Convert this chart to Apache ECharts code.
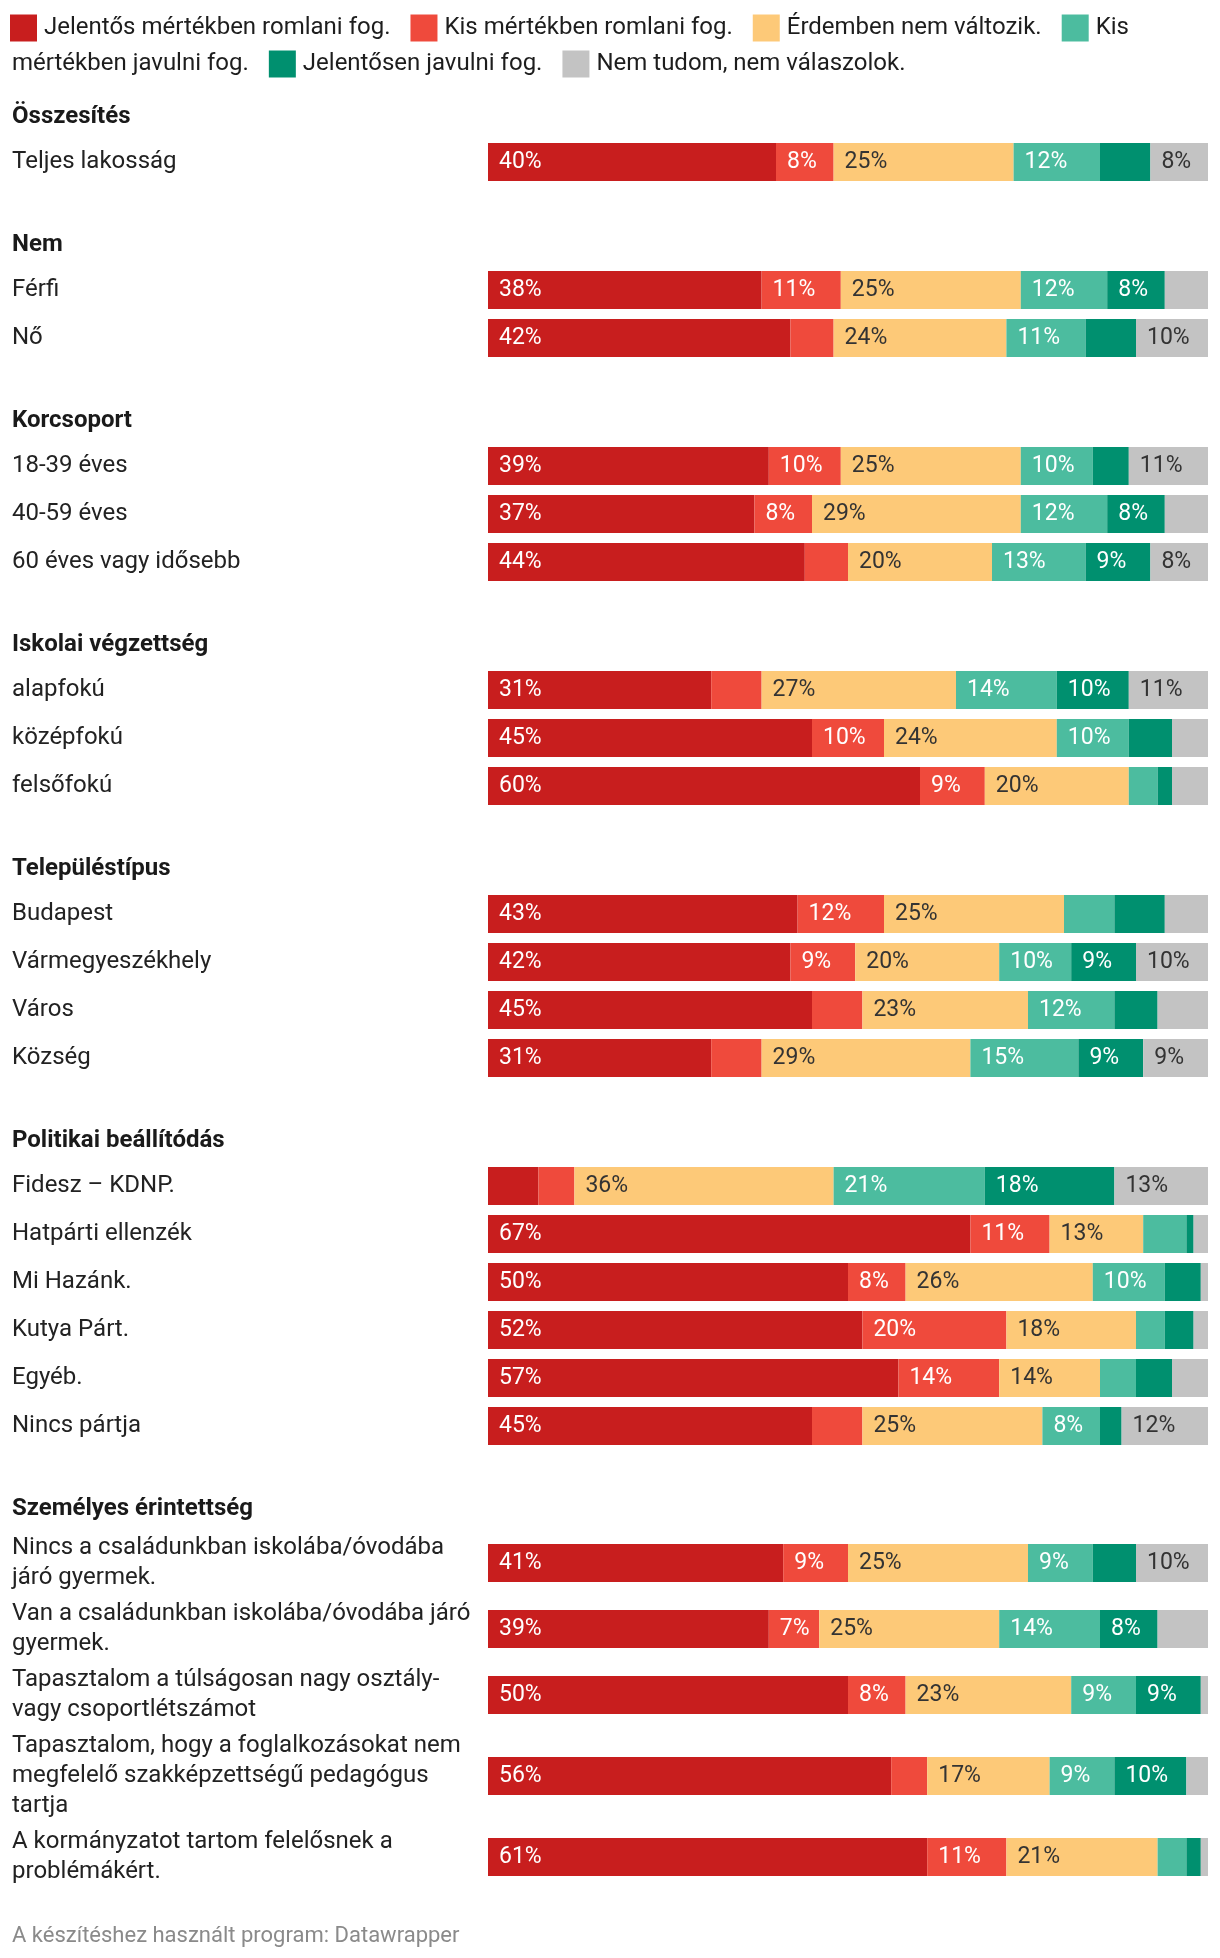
<!DOCTYPE html>
<html>
<head>
<meta charset="utf-8">
<script src="https://cdn.jsdelivr.net/npm/echarts@6/dist/echarts.min.js"></script>
<style>
html,body{margin:0;padding:0;background:#fff;}
#chart{width:1220px;height:1958px;}
</style>
</head>
<body>
<div id="chart"></div>
<script>
// ---------- DATA ----------
const seriesNames = [
  'Jelentős mértékben romlani fog.',
  'Kis mértékben romlani fog.',
  'Érdemben nem változik.',
  'Kis mértékben javulni fog.',
  'Jelentősen javulni fog.',
  'Nem tudom, nem válaszolok.'
];
const groupNames = ['Összesítés','Nem','Korcsoport','Iskolai végzettség','Településtípus','Politikai beállítódás','Személyes érintettség'];
const groupSizes = [1,2,3,3,4,6,5];
const rowLabels = [
  'Teljes lakosság',
  'Férfi','Nő',
  '18-39 éves','40-59 éves','60 éves vagy idősebb',
  'alapfokú','középfokú','felsőfokú',
  'Budapest','Vármegyeszékhely','Város','Község',
  'Fidesz – KDNP.','Hatpárti ellenzék','Mi Hazánk.','Kutya Párt.','Egyéb.','Nincs pártja',
  'Nincs a családunkban iskolába/óvodába\njáró gyermek.',
  'Van a családunkban iskolába/óvodába járó\ngyermek.',
  'Tapasztalom a túlságosan nagy osztály-\nvagy csoportlétszámot',
  'Tapasztalom, hogy a foglalkozásokat nem\nmegfelelő szakképzettségű pedagógus\ntartja',
  'A kormányzatot tartom felelősnek a\nproblémákért.'
];
const sigWorse   = [40,38,42,39,37,44,31,45,60,43,42,45,31, 7,67,50,52,57,45,41,39,50,56,61];
const slightWorse= [ 8,11, 6,10, 8, 6, 7,10, 9,12, 9, 7, 7, 5,11, 8,20,14, 7, 9, 7, 8, 5,11];
const noChange   = [25,25,24,25,29,20,27,24,20,25,20,23,29,36,13,26,18,14,25,25,25,23,17,21];
const slightBetter=[12,12,11,10,12,13,14,10, 4, 7,10,12,15,21, 6,10, 4, 5, 8, 9,14, 9, 9, 4];
const sigBetter  = [ 7, 8, 7, 5, 8, 9,10, 6, 2, 7, 9, 6, 9,18, 1, 5, 4, 5, 3, 6, 8, 9,10, 2];
const dontKnow   = [ 8, 6,10,11, 6, 8,11, 5, 5, 6,10, 7, 9,13, 2, 1, 2, 5,12,10, 7, 1, 3, 1];
const seriesValues = [sigWorse, slightWorse, noChange, slightBetter, sigBetter, dontKnow];
// small segments whose label is still shown in the original: [row, series]
const extraLabels = [[20,1]];
const footerText = 'A készítéshez használt program: Datawrapper';

// ---------- STYLE ----------
const colors = ['#c81e1e','#ef4a3c','#fdc978','#4cbc9f','#00906f','#c3c3c3'];
const labelColors = ['#fff','#fff','#333','#fff','#fff','#333'];
const FONT = 'Roboto';
const FS = 24;
const BAR_FS = 23;
const LEFT = 488, BAR_W = 720, BAR_H = 38;

const canvas = document.createElement('canvas');
const ctx = canvas.getContext('2d');
function tw(s, weight) { ctx.font = (weight||'normal') + ' ' + FS + 'px ' + FONT; return ctx.measureText(s).width; }

const option = {
  animation: false,
  backgroundColor: '#fff',
  grid: [], xAxis: [], yAxis: [], series: [], graphic: []
};

// ---------- LEGEND (wrapping like the original) ----------
(function(){
  const maxX = 1210, sq = 27, lineH = 36, y0 = 28;
  let x = 10, line = 0;
  function txt(s, x, l) {
    option.graphic.push({type:'text', style:{text:s, x:x, y:y0 + l*lineH, fill:'#1d1d1d', fontSize:FS, fontFamily:FONT, verticalAlign:'middle', align:'left'}, silent:true});
  }
  seriesNames.forEach((name, s) => {
    if (x + sq > maxX) { line++; x = 10; }
    option.graphic.push({type:'rect', shape:{x:x, y:y0 + line*lineH - sq/2, width:sq, height:sq}, style:{fill:colors[s]}, silent:true});
    x += sq + 7;
    const words = name.split(' ');
    let segStart = x, seg = '';
    words.forEach((w) => {
      const piece = seg ? seg + ' ' + w : w;
      if (seg && segStart + tw(piece) > maxX) {
        txt(seg, segStart, line);
        line++; segStart = 12; seg = w;
      } else if (!seg && segStart + tw(w) > maxX) {
        line++; segStart = 12; seg = w;
      } else {
        seg = piece;
      }
    });
    txt(seg, segStart, line);
    x = segStart + tw(seg) + 20;
  });
})();

// ---------- ROWS ----------
let y = 117, row = 0;
groupNames.forEach((g, gi) => {
  option.graphic.push({type:'text', style:{text:g, x:12, y:y, fill:'#1a1a1a', fontSize:FS, fontWeight:'bold', fontFamily:FONT, verticalAlign:'middle', align:'left'}, silent:true});
  y += 21;
  for (let k = 0; k < groupSizes[gi]; k++, row++) {
    const lines = rowLabels[row].split('\n').length;
    const slot = lines > 1 ? Math.max(48, lines*30 + 6) : 48;
    const center = y + slot/2;
    y += slot;
    const i = row;
    option.grid.push({left:LEFT, width:BAR_W, top:center - BAR_H/2, height:BAR_H});
    option.xAxis.push({type:'value', gridIndex:i, min:0, max:100, show:false});
    option.yAxis.push({
      type:'category', gridIndex:i, data:[rowLabels[i]],
      axisLine:{show:false}, axisTick:{show:false}, splitLine:{show:false},
      axisLabel:{align:'left', margin:LEFT-12, fontSize:FS, lineHeight:30, color:'#222', fontFamily:FONT}
    });
    seriesValues.forEach((vals, s) => {
      const v = vals[i];
      const show = v >= 8 || extraLabels.some(e => e[0] === i && e[1] === s);
      option.series.push({
        type:'bar', name:seriesNames[s], stack:'row'+i, xAxisIndex:i, yAxisIndex:i,
        barWidth:BAR_H, itemStyle:{color:colors[s]},
        label:{position:'insideLeft', distance:11, formatter:'{c}%', color:labelColors[s], fontSize:BAR_FS, fontFamily:FONT},
        data:[{value:v, label:{show:show}}]
      });
    });
  }
  y += 59;
});

option.graphic.push({type:'text', style:{text:footerText, x:12, y:1936, fill:'#8a8a8a', fontSize:22, fontFamily:FONT, verticalAlign:'middle', align:'left'}, silent:true});

const chart = echarts.init(document.getElementById('chart'), null, {renderer:'canvas'});
chart.setOption(option);
</script>
</body>
</html>
